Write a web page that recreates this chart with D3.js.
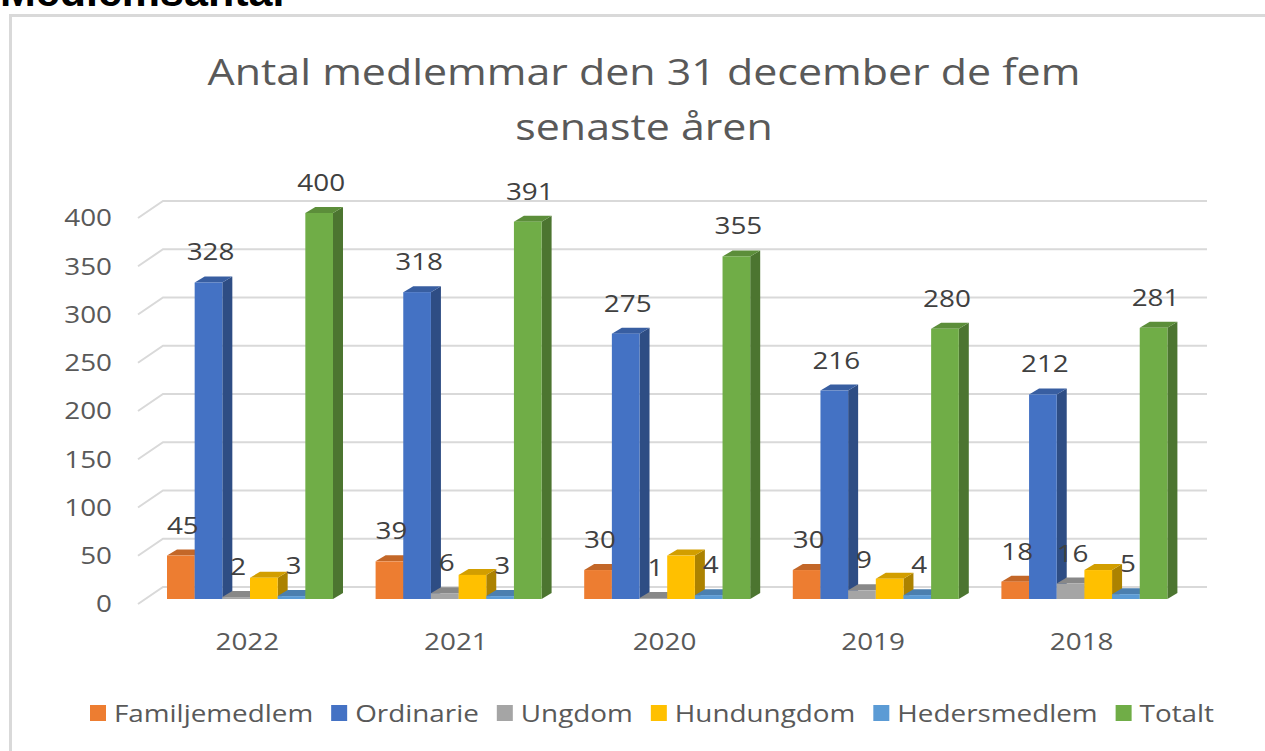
<!DOCTYPE html>
<html>
<head>
<meta charset="utf-8">
<script src="https://cdn.jsdelivr.net/npm/d3@7"></script>
<style>
  body { margin: 0; background: #fff; }
  svg { display: block; }
  text { font-family: "Open Sans", "DejaVu Sans", sans-serif; fill: #595959; }
</style>
</head>
<body>
<script>
  // chart data
  const years = ['2022', '2021', '2020', '2019', '2018'];
  const seriesNames = ['Familjemedlem', 'Ordinarie', 'Ungdom', 'Hundungdom', 'Hedersmedlem', 'Totalt'];
  const familjemedlem = [45, 39, 30, 30, 18];
  const ordinarie = [328, 318, 275, 216, 212];
  const ungdom = [2, 6, 1, 9, 16];
  const hundungdom = [22, 25, 45, 21, 30];
  const hedersmedlem = [3, 3, 4, 4, 5];
  const totalt = [400, 391, 355, 280, 281];
  const yTicks = [0, 50, 100, 150, 200, 250, 300, 350, 400];
  const titleLines = ['Antal medlemmar den 31 december de fem', 'senaste åren'];

  const seriesValues = [familjemedlem, ordinarie, ungdom, hundungdom, hedersmedlem, totalt];
  const colors = ['#ED7D31', '#4472C4', '#A5A5A5', '#FFC000', '#5B9BD5', '#70AD47'];
  // Hundungdom has no data labels in the original
  const showLabels = [true, true, true, false, true, true];

  const w = 1265;
  const h = 751;
  const dx = 10, dy = 6;          // bar depth
  const backDy = 12, backDx = 25; // wall depth
  const stretch = 1.16;           // the original text is drawn a bit wide

  // place text at (x, y) and widen it horizontally
  function wide(sel, x, y) {
    return sel
      .attr('x', 0)
      .attr('y', 0)
      .attr('transform', (d, i) => 'translate(' + x(d, i) + ',' + y(d, i) + ') scale(' + stretch + ',1)');
  }

  const svg = d3.select('body').append('svg')
    .attr('width', w)
    .attr('height', h);

  // page heading, cut at the top
  svg.append('text')
    .attr('x', 0)
    .attr('y', 6)
    .style('font-family', '"Liberation Sans", Arial, sans-serif')
    .style('font-weight', 'bold')
    .style('font-size', '43px')
    .style('fill', '#000')
    .text('Medlemsantal');

  // chart frame
  svg.append('rect')
    .attr('x', 10.5)
    .attr('y', 15.5)
    .attr('width', 1400)
    .attr('height', 900)
    .attr('fill', 'none')
    .attr('stroke', '#d9d9d9')
    .attr('stroke-width', 3);

  // title
  svg.selectAll('.title')
    .data(titleLines)
    .enter()
    .append('text')
    .attr('class', 'title')
    .attr('text-anchor', 'middle')
    .style('font-size', '37px')
    .text(d => d)
    .call(wide, () => 644, (d, i) => 85 + i * 55);

  // scales
  const xScale = d3.scaleBand()
    .domain(years)
    .range([146, 1189]);

  const xInner = d3.scaleBand()
    .domain(seriesNames)
    .range([21, 187]);

  const yScale = d3.scaleLinear()
    .domain([0, 400])
    .range([599, 213]);

  const wallLeft = 138;
  const wallRight = 1207;

  // gridlines: diagonal floor edge plus back wall line
  svg.append('g').selectAll('path')
    .data(yTicks)
    .enter()
    .append('path')
    .attr('d', d => {
      const yf = yScale(d) + 5;
      const yb = yScale(d) - backDy;
      return 'M' + wallLeft + ',' + yf + 'L' + (wallLeft + backDx) + ',' + yb + 'L' + wallRight + ',' + yb;
    })
    .attr('fill', 'none')
    .attr('stroke', '#d9d9d9')
    .attr('stroke-width', 2);

  // y axis labels
  svg.append('g').selectAll('text')
    .data(yTicks)
    .enter()
    .append('text')
    .attr('dy', '0.35em')
    .attr('text-anchor', 'end')
    .style('font-size', '24px')
    .text(d => d)
    .call(wide, () => 112, d => yScale(d) + 5);

  // bars
  const bars = [];
  years.forEach((yr, i) => {
    seriesNames.forEach((s, j) => {
      bars.push({ year: yr, series: s, j: j, value: seriesValues[j][i] });
    });
  });

  const base = yScale(0);
  const bw = xInner.bandwidth();

  const barG = svg.append('g').selectAll('g')
    .data(bars)
    .enter()
    .append('g');

  // side face
  barG.append('path')
    .attr('d', d => {
      const x0 = xScale(d.year) + xInner(d.series);
      const yt = yScale(d.value);
      return 'M' + (x0 + bw) + ',' + yt + 'L' + (x0 + bw + dx) + ',' + (yt - dy) +
        'L' + (x0 + bw + dx) + ',' + (base - dy) + 'L' + (x0 + bw) + ',' + base + 'Z';
    })
    .attr('fill', d => d3.color(colors[d.j]).darker(1.1));

  // top face
  barG.append('path')
    .attr('d', d => {
      const x0 = xScale(d.year) + xInner(d.series);
      const yt = yScale(d.value);
      return 'M' + x0 + ',' + yt + 'L' + (x0 + dx) + ',' + (yt - dy) +
        'L' + (x0 + bw + dx) + ',' + (yt - dy) + 'L' + (x0 + bw) + ',' + yt + 'Z';
    })
    .attr('fill', d => d3.color(colors[d.j]).darker(0.55));

  barG.append('rect')
    .attr('x', d => xScale(d.year) + xInner(d.series))
    .attr('y', d => yScale(d.value))
    .attr('width', bw)
    .attr('height', d => base - yScale(d.value))
    .attr('fill', d => colors[d.j]);

  // data labels
  svg.append('g').selectAll('text')
    .data(bars.filter(d => showLabels[d.j]))
    .enter()
    .append('text')
    .attr('text-anchor', 'middle')
    .style('font-size', '24px')
    .style('fill', '#404040')
    .text(d => d.value)
    .call(wide, d => xScale(d.year) + xInner(d.series) + bw / 2 + 2, d => yScale(d.value) - 22);

  // category labels
  svg.append('g').selectAll('text')
    .data(years)
    .enter()
    .append('text')
    .attr('text-anchor', 'middle')
    .style('font-size', '24px')
    .text(d => d)
    .call(wide, d => xScale(d) + xScale.bandwidth() / 2 - 3, () => 650);

  // legend
  const legend = svg.append('g');
  let lx = 90;
  seriesNames.forEach((s, j) => {
    legend.append('rect')
      .attr('x', lx)
      .attr('y', 705)
      .attr('width', 16)
      .attr('height', 16)
      .attr('fill', colors[j]);
    const t = legend.append('text')
      .datum(s)
      .style('font-size', '24px')
      .text(s)
      .call(wide, () => lx + 24, () => 722);
    lx += 24 + t.node().getComputedTextLength() * stretch + 18;
  });
</script>
</body>
</html>
